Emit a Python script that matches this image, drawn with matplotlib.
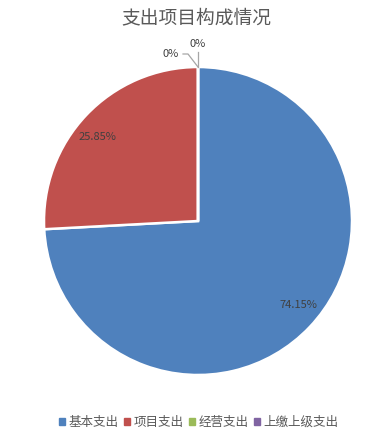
import matplotlib.pyplot as plt
import numpy as np

plt.rcParams['font.family'] = ['Noto Sans CJK SC', 'DejaVu Sans']

categories = ["基本支出", "项目支出", "经营支出", "上缴上级支出"]
values = [74.15, 25.85, 0.0, 0.0]
labels = ["74.15%", "25.85%", "0%", "0%"]
colors = ["#4F81BD", "#C0504D", "#9BBB59", "#8064A2"]

fig = plt.figure(figsize=(3.92, 4.36), dpi=100)
ax = fig.add_axes([0, 0, 1, 1])

cx, cy, r = 198, 215, 154
wedges, _ = ax.pie(values, colors=colors, startangle=90, counterclock=False,
                   center=(cx, cy), radius=r, frame=True,
                   wedgeprops=dict(edgecolor="white", linewidth=1.8))
ax.set_xlim(0, 392)
ax.set_ylim(0, 436)
ax.set_aspect("equal")
ax.axis("off")

# percent labels for the non-zero slices (slightly rotated off the mid angle)
for w, lab, v in zip(wedges, labels, values):
    if v <= 0:
        continue
    ang = np.deg2rad((w.theta1 + w.theta2) / 2 + 3.5)
    ax.text(cx + 0.85 * r * np.cos(ang), cy + 0.85 * r * np.sin(ang), lab,
            ha="center", va="center", fontsize=8, color="#404040")

# zero slices sit at the top, labels pulled out with leader lines
tx, ty = cx, cy + r
ax.plot([tx, tx], [ty, ty + 15], color="#A6A6A6", lw=0.9)
ax.text(tx, ty + 23, labels[3], ha="center", va="center", fontsize=8, color="#404040")
ax.plot([tx, tx - 10, tx - 15], [ty, ty + 13, ty + 13], color="#A6A6A6", lw=0.9)
ax.text(tx - 19, ty + 13, labels[2], ha="right", va="center", fontsize=8, color="#404040")

fig.text(0.5, 0.96, "支出项目构成情况", ha="center", va="center", fontsize=13.5, color="#595959")

handles = [plt.Rectangle((0, 0), 1, 1, color=c) for c in colors]
fig.legend(handles, categories, loc="center", bbox_to_anchor=(0.507, 0.032), ncol=4,
           frameon=False, fontsize=9, handlelength=0.5, handleheight=0.5,
           handletextpad=0.3, columnspacing=0.4, labelcolor="#595959")

fig.savefig("out.png", dpi=100)
